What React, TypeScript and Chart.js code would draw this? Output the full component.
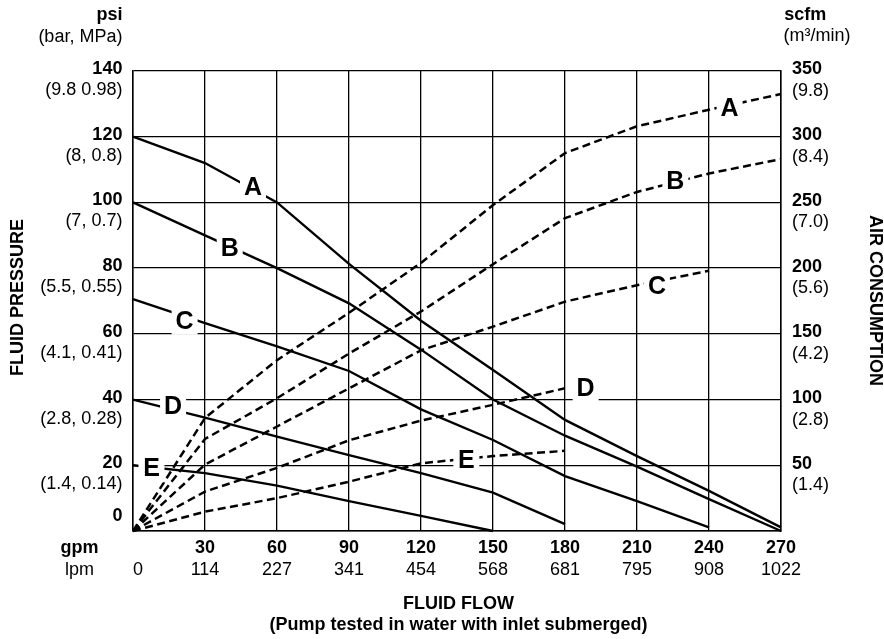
import React, { useEffect, useRef } from "react";
import { Chart, registerables } from "chart.js";

Chart.register(...registerables);

// ---- data ----
const flowGpm = [0, 30, 60, 90, 120, 150, 180, 210, 240, 270];
const flowLpmLabels = ["0", "114", "227", "341", "454", "568", "681", "795", "908", "1022"];
const psiTicks = [0, 20, 40, 60, 80, 100, 120, 140];
const psiSubLabels = ["", "(1.4, 0.14)", "(2.8, 0.28)", "(4.1, 0.41)", "(5.5, 0.55)", "(7, 0.7)", "(8, 0.8)", "(9.8 0.98)"];
const scfmTicks = [50, 100, 150, 200, 250, 300, 350];
const scfmSubLabels = ["(1.4)", "(2.8)", "(4.2)", "(5.6)", "(7.0)", "(8.4)", "(9.8)"];

const curveIds = ["A", "B", "C", "D", "E"];

// fluid pressure (psi) at flowGpm points
const pressureA = [120, 112, 100, 81.3, 64, 49, 33.8, 22.8, 12.2, 1.1];
const pressureB = [100, 90, 80, 69.3, 55.2, 40, 29, 19.6, 9.7, 0];
const pressureC = [70.6, 63.3, 56.2, 48.7, 37, 27.7, 16.7, 9.1, 1.1];
const pressureD = [40, 34.5, 28.7, 23.1, 17.6, 11.7, 2.1];
const pressureE = [20, 17.6, 13.8, 9.1, 4.6, 0];

// air consumption (scfm) at flowGpm points
const airA = [0, 86, 130, 166, 204, 248, 287.5, 308, 320.5, 332.5];
const airB = [0, 70, 101, 135, 167, 203, 238, 258, 272, 283];
const airC = [0, 50.5, 79.5, 108.5, 137.5, 155.5, 174.5, 187, 198];
const airD = [0, 30, 48, 69, 84, 96, 108.6];
const airE = [0, 14.7, 25, 37.5, 51.5, 57, 61];

// curve label anchors
const pressureLabelGpm = [50, 40.3, 21.5, 16.7, 7.7];
const pressureLabelPsi = [104.8, 86.1, 64, 37.9, 19.1];
const airLabelGpm = [248.6, 226, 218.3, 188.6, 138.9];
const airLabelScfm = [321.8, 266, 186.5, 108.6, 54];

const FONT = '"Liberation Sans", Arial, Helvetica, sans-serif';

const pressureSeries = [pressureA, pressureB, pressureC, pressureD, pressureE];
const airSeries = [airA, airB, airC, airD, airE];

const textPlugin = {
  id: "pumpTexts",
  afterDatasetsDraw(chart: any) {
    const ctx = chart.ctx;
    const xs = chart.scales.x;
    const ys = chart.scales.y;
    const y2 = chart.scales.y2;
    ctx.save();
    ctx.font = `bold 25px ${FONT}`;
    ctx.textAlign = "center";
    ctx.textBaseline = "middle";
    const box = (px: number, py: number, t: string) => {
      ctx.fillStyle = "#fff";
      ctx.fillRect(px - 13, py - 14, 26, 28);
      ctx.fillStyle = "#000";
      ctx.fillText(t, px, py + 1);
    };
    curveIds.forEach((id, i) => {
      box(xs.getPixelForValue(pressureLabelGpm[i]), ys.getPixelForValue(pressureLabelPsi[i]), id);
      box(xs.getPixelForValue(airLabelGpm[i]), y2.getPixelForValue(airLabelScfm[i]), id);
    });
    ctx.restore();
  },
  afterDraw(chart: any) {
    const ctx = chart.ctx;
    const area = chart.chartArea;
    const xs = chart.scales.x;
    const ys = chart.scales.y;
    const y2 = chart.scales.y2;
    const bold = `bold 18px ${FONT}`;
    const norm = `18px ${FONT}`;
    ctx.save();
    ctx.fillStyle = "#000";
    ctx.textBaseline = "middle";

    // left ticks
    ctx.textAlign = "right";
    const lx = area.left - 10.6;
    psiTicks.forEach((v, i) => {
      const py = ys.getPixelForValue(v);
      const ny = v === 0 ? py - 15 : py - 2;
      ctx.font = bold;
      ctx.fillText(String(v), lx, ny);
      if (psiSubLabels[i]) {
        ctx.font = norm;
        ctx.fillText(psiSubLabels[i], lx, ny + 21);
      }
    });
    ctx.font = bold;
    ctx.fillText("psi", lx, 15);
    ctx.font = norm;
    ctx.fillText("(bar, MPa)", lx, 37);

    // right ticks
    ctx.textAlign = "left";
    const rx = area.right + 11;
    scfmTicks.forEach((v, i) => {
      const py = y2.getPixelForValue(v);
      const ny = py - 1.5;
      ctx.font = bold;
      ctx.fillText(String(v), rx, ny);
      ctx.font = norm;
      ctx.fillText(scfmSubLabels[i], rx, ny + 21.5);
    });
    ctx.font = bold;
    ctx.fillText("scfm", area.right + 3.3, 15);
    ctx.font = norm;
    ctx.fillText("(m\u00b3/min)", area.right + 2.6, 36);

    // bottom ticks
    ctx.textAlign = "center";
    const gy = area.bottom + 16.7;
    const ly = area.bottom + 39;
    flowGpm.forEach((v, i) => {
      const px = xs.getPixelForValue(v);
      if (v !== 0) {
        ctx.font = bold;
        ctx.fillText(String(v), px, gy);
      }
      ctx.font = norm;
      ctx.fillText(flowLpmLabels[i], v === 0 ? px + 5 : px, ly);
    });
    ctx.font = bold;
    ctx.fillText("gpm", 79.5, gy);
    ctx.font = norm;
    ctx.fillText("lpm", 79.5, ly);

    // titles
    ctx.font = bold;
    const cx = (area.left + area.right) / 2 + 1.5;
    ctx.fillText("FLUID FLOW", cx, 604.3);
    ctx.fillText("(Pump tested in water with inlet submerged)", cx, 625);

    ctx.save();
    ctx.translate(18.3, 297.5);
    ctx.rotate(-Math.PI / 2);
    ctx.fillText("FLUID PRESSURE", 0, 0);
    ctx.restore();

    ctx.save();
    ctx.translate(874.8, 300.5);
    ctx.rotate(Math.PI / 2);
    ctx.fillText("AIR CONSUMPTION", 0, 0);
    ctx.restore();

    ctx.restore();
  },
};

export default function App() {
  const ref = useRef<HTMLCanvasElement | null>(null);

  useEffect(() => {
    if (!ref.current) return;
    const datasets: any[] = [];
    pressureSeries.forEach((s, i) => {
      datasets.push({
        label: `Pressure ${curveIds[i]}`,
        data: s.map((v, j) => ({ x: flowGpm[j], y: v })),
        yAxisID: "y",
        borderColor: "#000",
        borderWidth: 2.4,
        pointRadius: 0,
        tension: 0,
        fill: false,
        clip: false,
      });
    });
    airSeries.forEach((s, i) => {
      datasets.push({
        label: `Air ${curveIds[i]}`,
        data: s.map((v, j) => ({ x: flowGpm[j], y: v })),
        yAxisID: "y2",
        borderColor: "#000",
        borderWidth: 2.5,
        borderDash: [8, 4.5],
        pointRadius: 0,
        tension: 0,
        fill: false,
        clip: false,
      });
    });

    const grid = { color: "#000", lineWidth: 1.3, drawTicks: false };
    const chart = new Chart(ref.current, {
      type: "line",
      data: { datasets },
      options: {
        animation: false,
        responsive: false,
        devicePixelRatio: 1,
        layout: { padding: { left: 133, right: 103, top: 71, bottom: 108 } },
        plugins: { legend: { display: false }, tooltip: { enabled: false } },
        events: [],
        scales: {
          x: {
            type: "linear",
            min: 0,
            max: 270,
            ticks: { stepSize: 30, display: false },
            grid,
            border: { color: "#000", width: 1.5 },
            afterFit: (s: any) => {
              s.height = 0;
            },
          },
          y: {
            type: "linear",
            position: "left",
            min: 0,
            max: 140,
            ticks: { stepSize: 20, display: false },
            grid,
            border: { color: "#000", width: 1.5 },
            afterFit: (s: any) => {
              s.width = 0;
            },
          },
          y2: {
            type: "linear",
            position: "right",
            min: 0,
            max: 350,
            ticks: { stepSize: 50, display: false },
            grid: { display: false, drawTicks: false },
            border: { color: "#000", width: 1.5 },
            afterFit: (s: any) => {
              s.width = 0;
            },
          },
        },
      } as any,
      plugins: [textPlugin],
    });
    return () => chart.destroy();
  }, []);

  return (
    <div style={{ position: "fixed", left: 0, top: 0, width: 884, height: 639, background: "#fff" }}>
      <canvas ref={ref} width={884} height={639} style={{ display: "block" }} />
    </div>
  );
}
